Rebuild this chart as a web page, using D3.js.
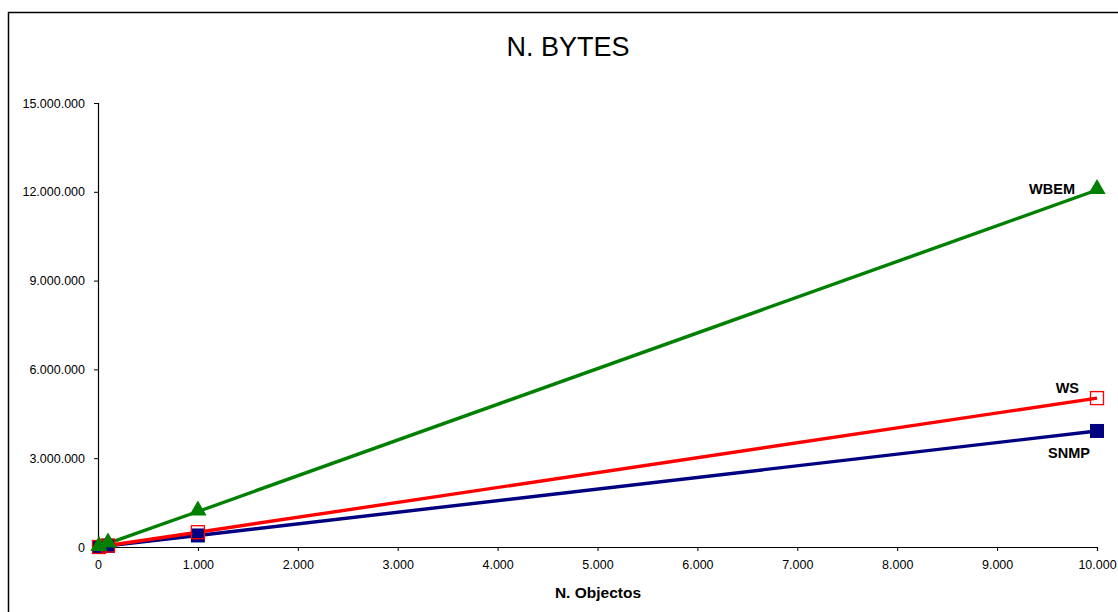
<!DOCTYPE html>
<html>
<head>
<meta charset="utf-8">
<script src="https://cdn.jsdelivr.net/npm/d3@7"></script>
<style>
  html, body { margin: 0; padding: 0; background: #fff; }
  svg { display: block; font-family: "Liberation Sans", Arial, sans-serif; }
</style>
</head>
<body>
<svg id="chart" width="1118" height="612"></svg>
<script>
// Number of objects queried
const objects = [10, 100, 1000, 10000];
// Bytes transferred per protocol
const snmpBytes = [0, 40000, 390000, 3920000];
const wsBytes   = [0, 50000, 500000, 5030000];
const wbemBytes = [0, 120000, 1200000, 12060000];

const xTicks = [0, 1000, 2000, 3000, 4000, 5000, 6000, 7000, 8000, 9000, 10000];
const yTicks = [0, 3000000, 6000000, 9000000, 12000000, 15000000];

const series = [
  { name: "SNMP", values: snmpBytes, color: "#000080", marker: "filledSquare" },
  { name: "WS",   values: wsBytes,   color: "#ff0000", marker: "hollowSquare" },
  { name: "WBEM", values: wbemBytes, color: "#008000", marker: "triangle" }
];

const svg = d3.select("#chart");
const W = 1118, H = 612;
const plot = { left: 98, right: 1097, top: 103, bottom: 547 };

// Outer chart frame
svg.append("rect")
  .attr("x", 8.5).attr("y", 12.5)
  .attr("width", W).attr("height", H)
  .attr("fill", "none").attr("stroke", "#000").attr("stroke-width", 1.5);

// Title
svg.append("text")
  .attr("x", 568).attr("y", 56)
  .attr("text-anchor", "middle")
  .attr("font-size", 27)
  .text("N. BYTES");

const x = d3.scaleLinear().domain([0, 10000]).range([plot.left, plot.right]);
const y = d3.scaleLinear().domain([0, 15000000]).range([plot.bottom, plot.top]);

const fmt = v => d3.format(",")(v).replace(/,/g, ".");

const xAxis = svg.append("g")
  .attr("transform", `translate(0,${plot.bottom})`)
  .call(d3.axisBottom(x).tickValues(xTicks).tickFormat(fmt).tickSize(4).tickPadding(9));
const yAxis = svg.append("g")
  .attr("transform", `translate(${plot.left},0)`)
  .call(d3.axisLeft(y).tickValues(yTicks).tickFormat(fmt).tickSize(4).tickPadding(9));

[xAxis, yAxis].forEach(g => {
  g.select(".domain").attr("stroke", "#000").attr("stroke-width", 1.2);
  g.selectAll(".tick line").attr("stroke", "#000");
  g.selectAll(".tick text")
    .attr("font-family", "Liberation Sans, Arial, sans-serif")
    .attr("font-size", 12.5).attr("fill", "#000");
});

// X axis title
svg.append("text")
  .attr("x", 598).attr("y", 598)
  .attr("text-anchor", "middle")
  .attr("font-size", 15.5).attr("font-weight", "bold")
  .text("N. Objectos");

const line = d3.line()
  .x((d, i) => x(objects[i]))
  .y(d => y(d));

series.forEach(s => {
  svg.append("path")
    .datum(s.values)
    .attr("d", line)
    .attr("fill", "none")
    .attr("stroke", s.color)
    .attr("stroke-width", 3.4);
});

series.forEach(s => {
  const g = svg.append("g");
  s.values.forEach((v, i) => {
    const cx = x(objects[i]), cy = y(v);
    if (s.marker === "filledSquare") {
      g.append("rect")
        .attr("x", cx - 7).attr("y", cy - 7)
        .attr("width", 14).attr("height", 14)
        .attr("fill", s.color);
    } else if (s.marker === "hollowSquare") {
      g.append("rect")
        .attr("x", cx - 6.5).attr("y", cy - 6.5)
        .attr("width", 13).attr("height", 13)
        .attr("fill", "none")
        .attr("stroke", s.color).attr("stroke-width", 1.3);
    } else {
      g.append("path")
        .attr("d", d3.symbol().type(d3.symbolTriangle).size(130)())
        .attr("transform", `translate(${cx},${cy - 1})`)
        .attr("fill", s.color);
    }
  });
});

// End-of-line series labels
const last = objects.length - 1;
const labels = [
  { text: "WBEM", value: wbemBytes[last], dx: -22, dy: 4 },
  { text: "WS",   value: wsBytes[last],   dx: -18, dy: -5 },
  { text: "SNMP", value: snmpBytes[last], dx: -7,  dy: 27 }
];
labels.forEach(l => {
  svg.append("text")
    .attr("x", x(objects[last]) + l.dx)
    .attr("y", y(l.value) + l.dy)
    .attr("text-anchor", "end")
    .attr("font-size", 14.5).attr("font-weight", "bold")
    .text(l.text);
});
</script>
</body>
</html>
